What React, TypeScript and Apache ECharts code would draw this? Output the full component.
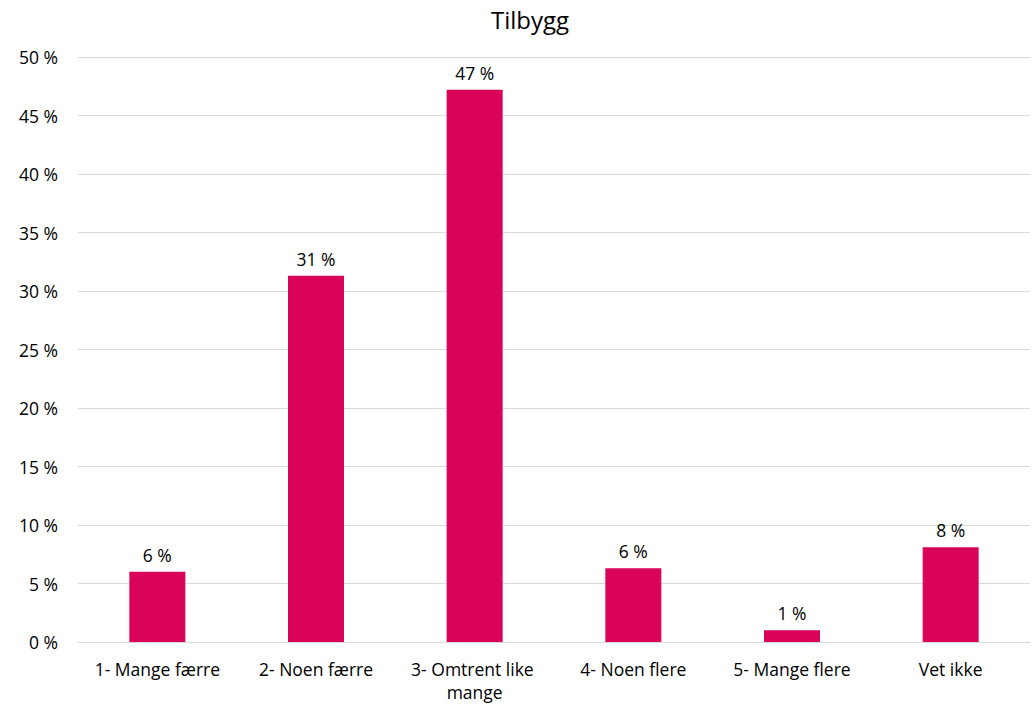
import React, { useEffect, useRef } from "react";
import * as echarts from "echarts";

const categories = ["1- Mange færre", "2- Noen færre", "3- Omtrent like mange", "4- Noen flere", "5- Mange flere", "Vet ikke"];
const values = [6.0, 31.3, 47.2, 6.3, 1.0, 8.1];
const yTicks = [0, 5, 10, 15, 20, 25, 30, 35, 40, 45, 50];

export default function App() {
  const ref = useRef<HTMLDivElement>(null);
  useEffect(() => {
    document.body.style.margin = "0";
    const chart = echarts.init(ref.current!, null, { renderer: "svg" });
    const font = "'Open Sans', 'Noto Sans', sans-serif";
    chart.setOption({
      animation: false,
      backgroundColor: "#ffffff",
      title: {
        text: "Tilbygg",
        left: 486,
        top: 2,
        textStyle: { fontFamily: font, fontSize: 24, fontWeight: "normal", color: "#000" },
      },
      grid: { left: 78, right: 6, top: 57, bottom: 63, containLabel: false, outerBoundsMode: "none" },
      xAxis: {
        type: "category",
        data: categories,
        axisLine: { show: true, lineStyle: { color: "#d9d9d9", width: 1 } },
        axisTick: { show: false },
        axisLabel: {
          fontFamily: font,
          fontSize: 17.5,
          color: "#000",
          margin: 15,
          interval: 0,
          lineHeight: 23,
          width: 150,
          overflow: "break",
        },
      },
      yAxis: {
        type: "value",
        min: yTicks[0],
        max: yTicks[yTicks.length - 1],
        interval: 5,
        axisLine: { show: false },
        axisTick: { show: false },
        splitLine: { lineStyle: { color: "#d9d9d9", width: 1 } },
        axisLabel: {
          fontFamily: font,
          fontSize: 17.5,
          color: "#000",
          margin: 20,
          formatter: (v: number) => `${v} %`,
        },
      },
      series: [
        {
          type: "bar",
          data: values,
          barWidth: 56,
          itemStyle: { color: "#D9035A" },
          label: {
            show: true,
            position: "top",
            distance: 8,
            fontFamily: font,
            fontSize: 17.5,
            color: "#000",
            formatter: (p: any) => `${Math.round(p.value)} %`,
          },
        },
      ],
    });
    return () => chart.dispose();
  }, []);
  return <div ref={ref} style={{ width: 1036, height: 705 }} />;
}
